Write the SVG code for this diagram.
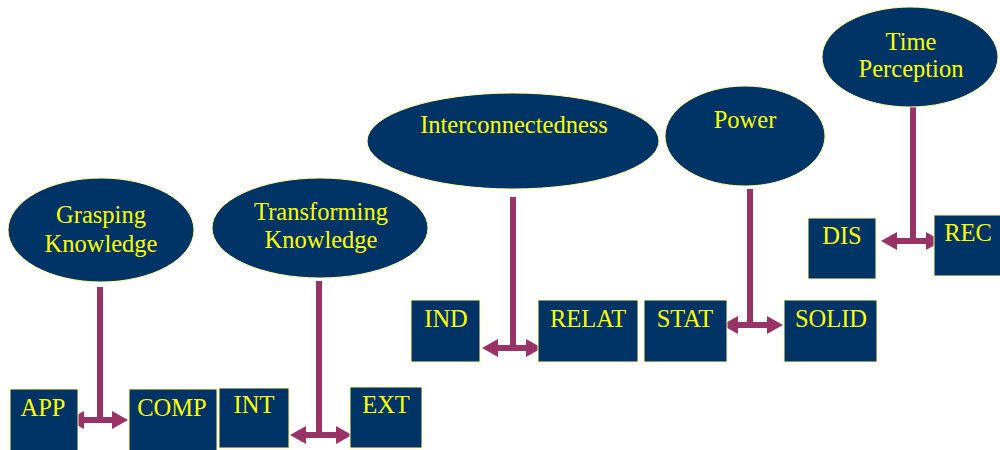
<svg xmlns="http://www.w3.org/2000/svg" width="1000" height="450" viewBox="0 0 1000 450">
<defs>
<style>
.n{fill:#003366;stroke:#FFFF99;stroke-width:1}
.t{fill:#FFFF00;font-family:"Liberation Serif","Times New Roman",serif;font-size:24.5px;text-anchor:middle}
.c{stroke:#993366;stroke-width:6;fill:none}
</style>
<marker id="ah" viewBox="0 0 16 18" refX="6" refY="9" markerWidth="16" markerHeight="18" markerUnits="userSpaceOnUse" orient="auto-start-reverse">
<path d="M0,0 L16,9 L0,18 z" fill="#993366"/>
</marker>
</defs>
<rect width="1000" height="450" fill="#ffffff"/>
<g id="connectors">
<path class="c" d="M100,287 V420"/>
<path class="c" d="M78,420 H118" marker-start="url(#ah)" marker-end="url(#ah)"/>
<path class="c" d="M319,281 V435"/>
<path class="c" d="M300,435 H342" marker-start="url(#ah)" marker-end="url(#ah)"/>
<path class="c" d="M513,197 V348"/>
<path class="c" d="M492,348 H532" marker-start="url(#ah)" marker-end="url(#ah)"/>
<path class="c" d="M750,189 V325"/>
<path class="c" d="M732,325 H773" marker-start="url(#ah)" marker-end="url(#ah)"/>
<path class="c" d="M913,107 V241"/>
<path class="c" d="M891,241 H932" marker-start="url(#ah)" marker-end="url(#ah)"/>
</g>
<g id="grasping"><ellipse class="n" cx="101" cy="230" rx="93" ry="52"/><text class="t" x="101" y="223">Grasping</text><text class="t" x="101" y="252">Knowledge</text></g>
<g id="transforming"><ellipse class="n" cx="320" cy="228" rx="108" ry="50"/><text class="t" x="321" y="220">Transforming</text><text class="t" x="321" y="248">Knowledge</text></g>
<g id="interconnectedness"><ellipse class="n" cx="513" cy="141" rx="146" ry="48"/><text class="t" x="514" y="133">Interconnectedness</text></g>
<g id="power"><ellipse class="n" cx="745" cy="136" rx="80" ry="50"/><text class="t" x="745" y="128">Power</text></g>
<g id="time"><ellipse class="n" cx="910" cy="57" rx="88" ry="50"/><text class="t" x="911" y="50">Time</text><text class="t" x="911" y="77">Perception</text></g>
<g id="app"><rect class="n" x="10" y="389" width="68" height="66"/><text class="t" x="43" y="416">APP</text></g>
<g id="comp"><rect class="n" x="129" y="389" width="88" height="66"/><text class="t" x="172" y="416">COMP</text></g>
<g id="int"><rect class="n" x="219" y="388" width="70" height="60"/><text class="t" x="254" y="413">INT</text></g>
<g id="ext"><rect class="n" x="350" y="387" width="72" height="61"/><text class="t" x="386" y="413">EXT</text></g>
<g id="ind"><rect class="n" x="411" y="300" width="69" height="62"/><text class="t" x="446" y="327">IND</text></g>
<g id="relat"><rect class="n" x="538" y="300" width="100" height="62"/><text class="t" x="588" y="327">RELAT</text></g>
<g id="stat"><rect class="n" x="644" y="300" width="83" height="62"/><text class="t" x="685" y="327">STAT</text></g>
<g id="solid"><rect class="n" x="784" y="300" width="93" height="62"/><text class="t" x="831" y="327">SOLID</text></g>
<g id="dis"><rect class="n" x="808" y="218" width="68" height="61"/><text class="t" x="842" y="244">DIS</text></g>
<g id="rec"><rect class="n" x="934" y="215" width="70" height="61"/><text class="t" x="968" y="241">REC</text></g>
</svg>
